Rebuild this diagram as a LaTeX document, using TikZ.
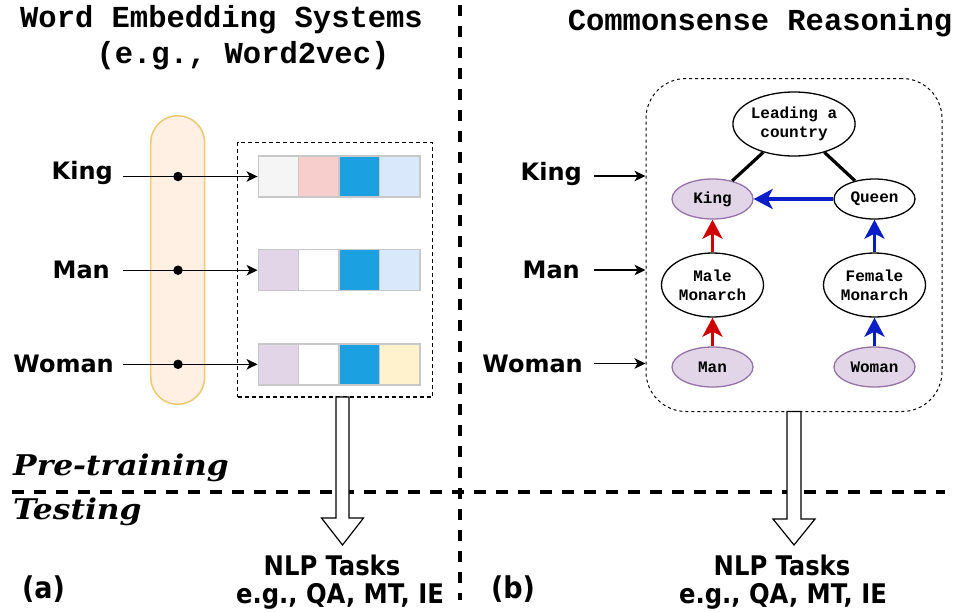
\documentclass[tikz,border=0pt]{standalone}
\usepackage{fontspec}
\newfontfamily\courfont{Liberation Mono}
\newfontfamily\sansfont{DejaVu Sans}
\newfontfamily\condfont{DejaVu Sans Condensed}
\newfontfamily\seriffont{DejaVu Serif}[FakeStretch=1.1]
\usetikzlibrary{arrows.meta,shapes.geometric}

\definecolor{cgray}{HTML}{F5F5F5}
\definecolor{cpink}{HTML}{F8CECC}
\definecolor{cblue}{HTML}{1BA1E2}
\definecolor{clblue}{HTML}{DAE8FC}
\definecolor{cpurple}{HTML}{E1D5E7}
\definecolor{cyellow}{HTML}{FFF2CC}
\definecolor{cellline}{HTML}{C8C8C8}
\definecolor{pillfill}{HTML}{FFF0E3}
\definecolor{pillline}{HTML}{F0C870}
\definecolor{purpline}{HTML}{9673A6}
\definecolor{relred}{HTML}{D00000}
\definecolor{relblue}{HTML}{0A1EC8}

\begin{document}
\begin{tikzpicture}[x=1pt,y=-1pt,
  titletext/.style={font=\courfont\bfseries\fontsize{30.5}{36}\selectfont, inner sep=0},
  wlabel/.style={font=\sansfont\bfseries\fontsize{24}{29}\selectfont, inner sep=0},
  phase/.style={font=\seriffont\bfseries\itshape\fontsize{28.5}{34}\selectfont, inner sep=0},
  nlp/.style={font=\condfont\bfseries\fontsize{27}{31}\selectfont, inner sep=0},
  tag/.style={font=\condfont\bfseries\fontsize{30}{34}\selectfont, inner sep=0},
  sepv/.style={line width=3.2pt, dash pattern=on 11pt off 10pt},
  seph/.style={line width=4.5pt, dash pattern=on 12pt off 10pt},
  cell/.style={draw=cellline, line width=1.5pt, minimum width=40.4pt, minimum height=41pt, inner sep=0},
  dotn/.style={circle, fill=black, minimum size=9.5pt, inner sep=0},
  thinarrow/.style={line width=1.2pt, -{Stealth[length=11pt,width=10.5pt,inset=3pt]}},
  concept/.style={ellipse, draw=black, line width=1.3pt, fill=white, inner sep=0,
    font=\courfont\bfseries\fontsize{16}{19}\selectfont, align=center},
  entity/.style={concept, draw=purpline, fill=cpurple},
  kline/.style={line width=3.2pt},
  relarrow/.style={line width=3.2pt, -{Stealth[length=19pt,width=20pt,inset=5pt]}},
  hollow/.style={draw=black, line width=1.2pt, fill=white, line join=miter}
]
\useasboundingbox (0,0) rectangle (958,611);

% ---- headings ----
\node[titletext, anchor=base] (t1) at (221.5,27) {Word Embedding Systems};
\node[titletext, anchor=base] (t2) at (243,63) {(e.g., Word2vec)};
\node[titletext, anchor=base] (t3) at (760,30.5) {Commonsense Reasoning};

% ---- separators ----
\draw[sepv] (460,5) -- (460,600);
\draw[seph] (12,492) -- (945,492);
\node[phase, anchor=base west] (pre) at (13,475) {Pre-training};
\node[phase, anchor=base west] (test) at (13,519) {Testing};

% ---- (a) word embedding ----
\node[draw=pillline, fill=pillfill, line width=1.5pt, rounded corners=27pt,
      minimum width=54pt, minimum height=288.6pt, inner sep=0] (emb) at (177.7,260) {};
\node[draw=black, line width=1.3pt, dash pattern=on 4pt off 3pt,
      minimum width=195pt, minimum height=254.3pt, inner sep=0] (vecbox) at (335.2,269.85) {};

\foreach \r/\y/\ca/\cb/\cc/\cd in {1/176.5/cgray/cpink/cblue/clblue,
                                  2/270.2/cpurple/white/cblue/clblue,
                                  3/364.3/cpurple/white/cblue/cyellow}{
  \node[cell, fill=\ca] (c\r1) at (278.5,\y) {};
  \node[cell, fill=\cb] (c\r2) at (318.9,\y) {};
  \node[cell, fill=\cc] (c\r3) at (359.3,\y) {};
  \node[cell, fill=\cd] (c\r4) at (399.7,\y) {};
}

\node[wlabel, anchor=base east] (lk) at (113,179) {King};
\node[wlabel, anchor=base east] (lm) at (110,278) {Man};
\node[wlabel, anchor=base east] (lw) at (114,372) {Woman};

\coordinate (sk) at (123,176.5);
\coordinate (sm) at (123,270.2);
\coordinate (sw) at (123,364.3);
\node[dotn] (dk) at (178,176.5) {};
\node[dotn] (dm) at (178,270.2) {};
\node[dotn] (dw) at (178,364.3) {};
\draw[thinarrow] (sk) -- (dk.center) -- (c11.west);
\draw[thinarrow] (sm) -- (dm.center) -- (c21.west);
\draw[thinarrow] (sw) -- (dw.center) -- (c31.west);

% downward block arrow to the tasks
\coordinate (ha) at (342.5,397);
\draw[hollow] (ha) ++(-6.5,0) -- ++(0,121) -- ++(-14.5,0) -- ++(21,27)
      -- ++(21,-27) -- ++(-14.5,0) -- ++(0,-121) -- cycle;
\node[nlp, anchor=base] (nlpa1) at (332,575) {NLP Tasks};
\node[nlp, anchor=base] (nlpa2) at (340,603) {e.g., QA, MT, IE};
\node[tag, anchor=base] (taga) at (43.5,598) {(a)};

% ---- (b) commonsense reasoning ----
\node[draw=black, line width=1pt, dash pattern=on 3pt off 3pt, rounded corners=40pt,
      minimum width=296pt, minimum height=333pt, inner sep=0] (kg) at (794,245) {};

\node[wlabel, anchor=base east] (rk) at (582,180) {King};
\node[wlabel, anchor=base east] (rm) at (580,278) {Man};
\node[wlabel, anchor=base east] (rw) at (583,372) {Woman};
\coordinate (rks) at (594,176);
\coordinate (rms) at (594,270);
\coordinate (rws) at (594,363.5);
\draw[thinarrow] (rks) -- (rks -| kg.west);
\draw[thinarrow] (rms) -- (rms -| kg.west);
\draw[thinarrow] (rws) -- (rws -| kg.west);

\node[concept, minimum width=122pt, minimum height=64pt] (lead) at (794,124) {Leading a\\country};
\node[entity, minimum width=81pt, minimum height=40pt] (kingE) at (712.5,199) {King};
\node[concept, minimum width=81pt, minimum height=40pt] (queen) at (874.5,199) {Queen};
\node[concept, minimum width=102pt, minimum height=64pt] (male) at (712.5,285) {Male\\Monarch};
\node[concept, minimum width=102pt, minimum height=64pt] (female) at (874.5,285) {Female\\Monarch};
\node[entity, minimum width=81pt, minimum height=40pt] (manE) at (712.5,367) {Man};
\node[entity, minimum width=81pt, minimum height=40pt] (womanE) at (874.5,367) {Woman};

\draw[kline] (lead) -- (kingE);
\draw[kline] (lead) -- (queen);
\draw[relarrow, relblue] (queen) -- (kingE);
\draw[relarrow, relred] (manE) -- (male);
\draw[relarrow, relred] (male) -- (kingE);
\draw[relarrow, relblue] (womanE) -- (female);
\draw[relarrow, relblue] (female) -- (queen);

\coordinate (hb) at (794,411.5);
\draw[hollow] (hb) ++(-7,0) -- ++(0,107.5) -- ++(-14,0) -- ++(21,26)
      -- ++(21,-26) -- ++(-14,0) -- ++(0,-107.5) -- cycle;
\node[nlp, anchor=base] (nlpb1) at (782,575) {NLP Tasks};
\node[nlp, anchor=base] (nlpb2) at (783,603) {e.g., QA, MT, IE};
\node[tag, anchor=base] (tagb) at (513,598) {(b)};
\end{tikzpicture}
\end{document}
